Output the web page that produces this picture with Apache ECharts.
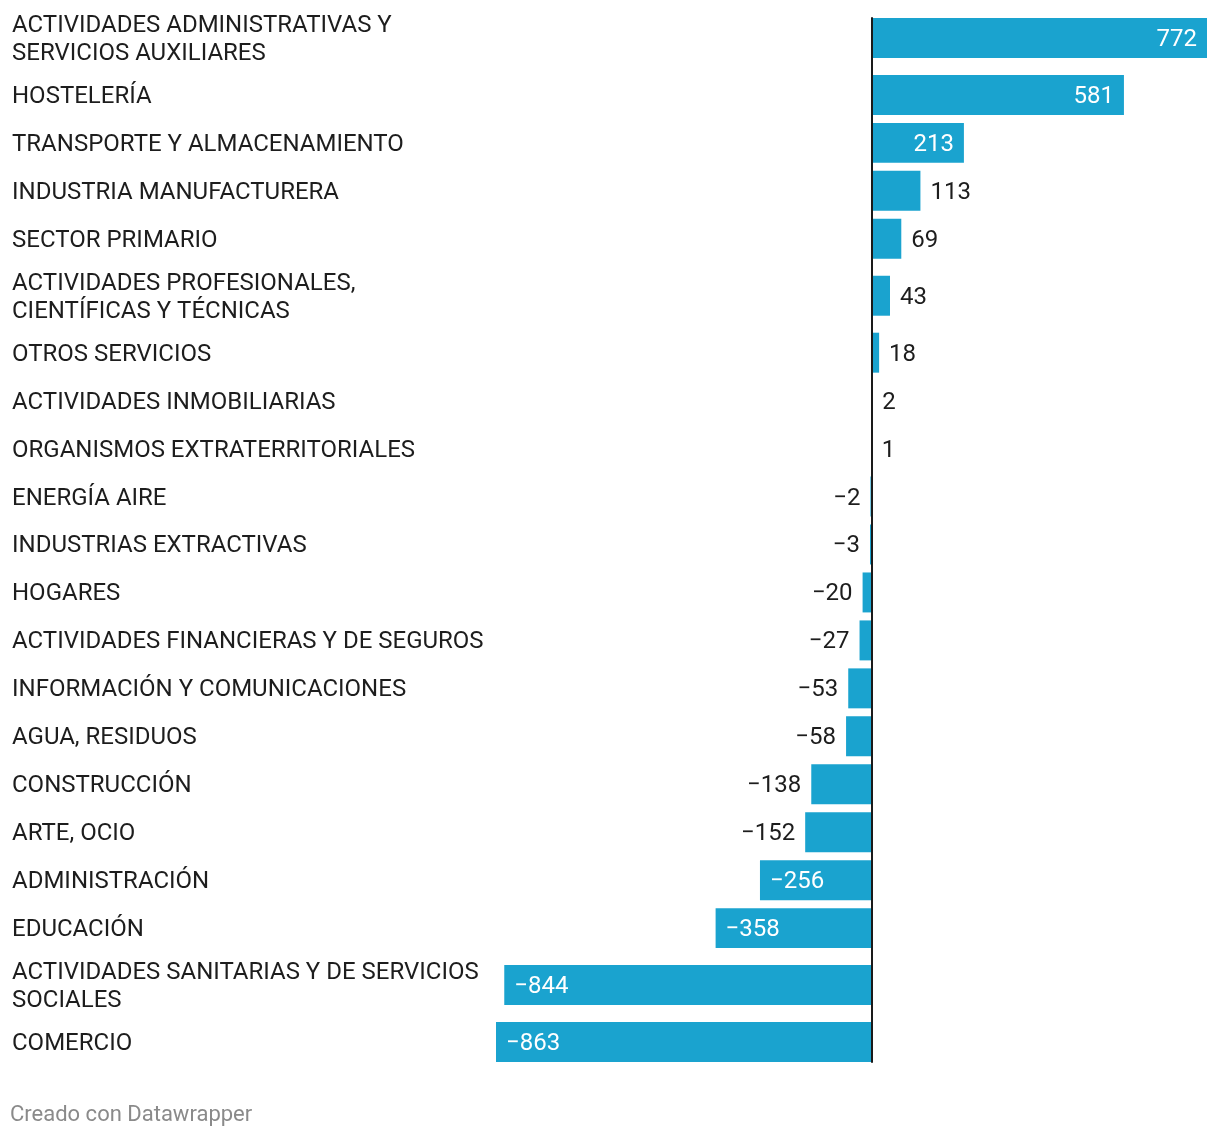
<!DOCTYPE html>
<html>
<head>
<meta charset="utf-8">
<script src="https://cdn.jsdelivr.net/npm/echarts@6/dist/echarts.min.js"></script>
<style>
html,body{margin:0;padding:0;background:#fff;}
#chart{width:1220px;height:1140px;}
</style>
</head>
<body>
<div id="chart"></div>
<script>
const categories = [
  "ACTIVIDADES ADMINISTRATIVAS Y\nSERVICIOS AUXILIARES",
  "HOSTELERÍA",
  "TRANSPORTE Y ALMACENAMIENTO",
  "INDUSTRIA MANUFACTURERA",
  "SECTOR PRIMARIO",
  "ACTIVIDADES PROFESIONALES,\nCIENTÍFICAS Y TÉCNICAS",
  "OTROS SERVICIOS",
  "ACTIVIDADES INMOBILIARIAS",
  "ORGANISMOS EXTRATERRITORIALES",
  "ENERGÍA AIRE",
  "INDUSTRIAS EXTRACTIVAS",
  "HOGARES",
  "ACTIVIDADES FINANCIERAS Y DE SEGUROS",
  "INFORMACIÓN Y COMUNICACIONES",
  "AGUA, RESIDUOS",
  "CONSTRUCCIÓN",
  "ARTE, OCIO",
  "ADMINISTRACIÓN",
  "EDUCACIÓN",
  "ACTIVIDADES SANITARIAS Y DE SERVICIOS\nSOCIALES",
  "COMERCIO"
];
const values = [772, 581, 213, 113, 69, 43, 18, 2, 1, -2, -3, -20, -27, -53, -58, -138, -152, -256, -358, -844, -863];
const footerText = "Creado con Datawrapper";

const FONT = "Roboto";
const BAR = "#1aa3cf";
const TEXT = "#1d1d1d";
const INSIDE_MIN = 200;
const BAR_H = 40;
const ROW_H = 48;       // row slot for a one-line label
const EXTRA_LINE = 18;  // extra slot height per additional label line
const TEXT_DY = 2;      // baseline nudge for vertically centred text

function fmt(v){ return v < 0 ? "\u2212" + Math.abs(v) : String(v); }

// row layout: slot heights depend on the number of label lines
const centers = [];
let acc = 0;
categories.forEach(c => {
  const h = ROW_H + EXTRA_LINE * (c.split("\n").length - 1);
  centers.push(acc + h / 2);
  acc += h;
});
const yMin = centers[0] - BAR_H / 2;
const yMax = centers[centers.length - 1] + BAR_H / 2;

const seriesData = values.map((v, i) => [v, centers[i], i]);

function renderItem(params, api) {
  const v = api.value(0);
  const c = api.value(1);
  const i = api.value(2);
  const p0 = api.coord([0, c]);
  const p1 = api.coord([v, c]);
  const h = api.size([0, BAR_H])[1];
  const x = Math.min(p0[0], p1[0]);
  const w = Math.abs(p1[0] - p0[0]);
  const big = Math.abs(v) >= INSIDE_MIN;
  let lx, align;
  if (v >= 0) { if (big) { lx = p1[0] - 10; align = "right"; } else { lx = p1[0] + 10; align = "left"; } }
  else { if (big) { lx = p1[0] + 10; align = "left"; } else { lx = p1[0] - 10; align = "right"; } }
  return {
    type: "group",
    children: [
      {type: "rect", shape: {x: x, y: p0[1] - h / 2, width: w, height: h}, style: {fill: BAR}},
      {type: "text", style: {text: fmt(v), x: lx, y: p0[1] + TEXT_DY, align: align, verticalAlign: "middle",
        fontFamily: FONT, fontSize: 24, fill: big ? "#ffffff" : TEXT}},
      {type: "text", style: {text: categories[i], x: 12, y: p0[1] + TEXT_DY, align: "left", verticalAlign: "middle",
        fontFamily: FONT, fontSize: 24, lineHeight: 28, fill: TEXT}}
    ]
  };
}

const chart = echarts.init(document.getElementById("chart"), null, {renderer: "canvas"});
chart.setOption({
  animation: false,
  backgroundColor: "#ffffff",
  textStyle: {fontFamily: FONT},
  grid: {left: 496, right: 13, top: 18, bottom: 78, containLabel: false},
  xAxis: {
    type: "value",
    min: Math.min.apply(null, values),
    max: Math.max.apply(null, values),
    show: false,
    splitLine: {show: false}
  },
  yAxis: {
    type: "value",
    inverse: true,
    min: yMin,
    max: yMax,
    z: 10,
    axisLine: {show: true, onZero: true, lineStyle: {color: "#1a1a1a", width: 2}},
    axisTick: {show: false},
    axisLabel: {show: false},
    splitLine: {show: false}
  },
  series: [{
    type: "custom",
    clip: false,
    renderItem: renderItem,
    encode: {x: 0, y: 1},
    data: seriesData
  }],
  graphic: [{
    type: "text",
    left: 10,
    top: 1104,
    style: {text: footerText, fontFamily: FONT, fontSize: 22, fill: "#8a8a8a"}
  }]
});
</script>
</body>
</html>
